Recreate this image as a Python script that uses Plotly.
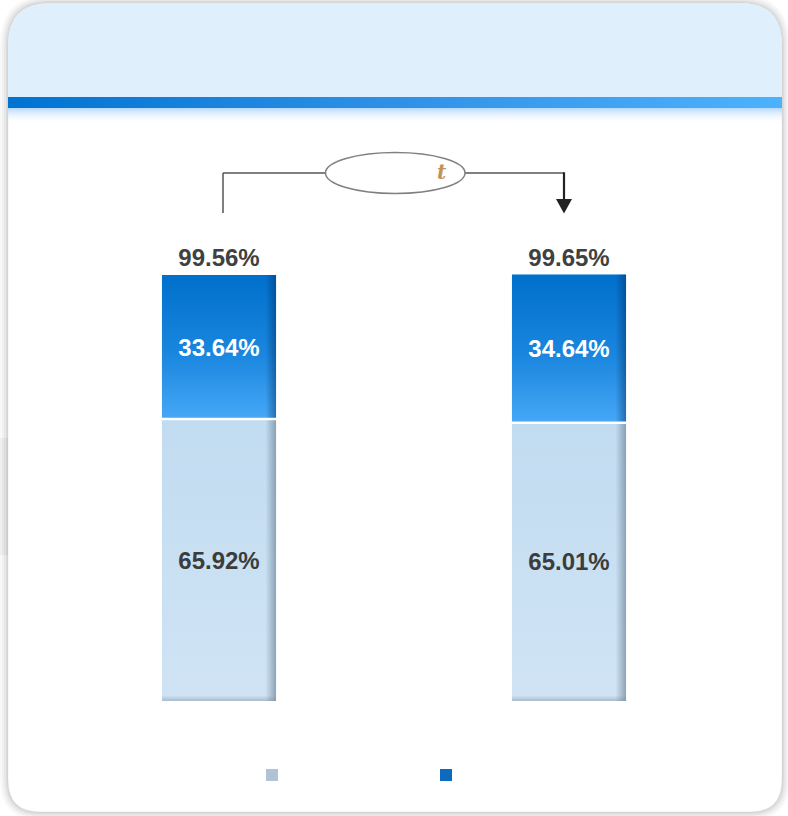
import plotly.graph_objects as go

# ---------------- data ----------------
categories = [0, 1]
bottom_values = [65.92, 65.01]
top_values = [33.64, 34.64]
total_values = [99.56, 99.65]
bottom_labels = ["65.92%", "65.01%"]
top_labels = ["33.64%", "34.64%"]
total_labels = ["99.56%", "99.65%"]
legend_names = [" ", " "]

W, H = 788, 816
BAR_W = 0.326
LBL_DY = -0.6  # small vertical nudge of labels (data units)

def px(x):
    return x / W

def py(y):
    return 1 - y / H

def rrect(x0, y0, x1, y1, r_top, r_bot):
    pts = [
        f"M{px(x0 + r_top)},{py(y0)}",
        f"L{px(x1 - r_top)},{py(y0)}",
        f"Q{px(x1)},{py(y0)} {px(x1)},{py(y0 + r_top)}",
        f"L{px(x1)},{py(y1 - r_bot)}",
        f"Q{px(x1)},{py(y1)} {px(x1 - r_bot)},{py(y1)}",
        f"L{px(x0 + r_bot)},{py(y1)}",
        f"Q{px(x0)},{py(y1)} {px(x0)},{py(y1 - r_bot)}",
        f"L{px(x0)},{py(y0 + r_top)}",
        f"Q{px(x0)},{py(y0)} {px(x0 + r_top)},{py(y0)}",
        "Z",
    ]
    return " ".join(pts)

fig = go.Figure()

# base bars (also provide legend symbols)
fig.add_trace(go.Bar(x=categories, y=bottom_values, width=BAR_W, name=legend_names[0],
                     marker=dict(color="#afc3d5", line=dict(width=0)), hoverinfo="skip"))
fig.add_trace(go.Bar(x=categories, y=top_values, width=BAR_W, name=legend_names[1],
                     marker=dict(color="#0c6bbf", line=dict(width=0)), hoverinfo="skip"))

# gradient overlays computed from the data
for i, c in enumerate(categories):
    xl, xr = c - BAR_W / 2, c + BAR_W / 2
    b0, b1 = 0, bottom_values[i]
    t0, t1 = bottom_values[i], bottom_values[i] + top_values[i]
    fig.add_trace(go.Scatter(x=[xl, xr, xr, xl, xl], y=[b0, b0, b1, b1, b0], mode="lines",
                             fill="toself", line=dict(width=0), showlegend=False, hoverinfo="skip",
                             fillgradient=dict(type="vertical",
                                               colorscale=[[0, "#cfe3f4"], [0.5, "#c9e0f3"], [1, "#c1dbf0"]])))
    fig.add_trace(go.Scatter(x=[xl, xr, xr, xl, xl], y=[t0, t0, t1, t1, t0], mode="lines",
                             fill="toself", line=dict(width=0), showlegend=False, hoverinfo="skip",
                             fillgradient=dict(type="vertical",
                                               colorscale=[[0, "#46a8f6"], [0.45, "#1a86de"], [1, "#0070cc"]])))
    e = 0.03
    fig.add_trace(go.Scatter(x=[xr - e, xr, xr, xr - e, xr - e], y=[b0, b0, b1, b1, b0], mode="lines",
                             fill="toself", line=dict(width=0), showlegend=False, hoverinfo="skip",
                             fillgradient=dict(type="horizontal",
                                               colorscale=[[0, "rgba(90,110,130,0)"], [1, "rgba(90,110,130,0.55)"]])))
    fig.add_trace(go.Scatter(x=[xr - e, xr, xr, xr - e, xr - e], y=[t0, t0, t1, t1, t0], mode="lines",
                             fill="toself", line=dict(width=0), showlegend=False, hoverinfo="skip",
                             fillgradient=dict(type="horizontal",
                                               colorscale=[[0, "rgba(0,40,90,0)"], [1, "rgba(0,40,90,0.45)"]])))
    fig.add_trace(go.Scatter(x=[xl, xr, xr, xl, xl], y=[b0, b0, b0 + 1.3, b0 + 1.3, b0], mode="lines",
                             fill="toself", line=dict(width=0), showlegend=False, hoverinfo="skip",
                             fillgradient=dict(type="vertical",
                                               colorscale=[[0, "rgba(120,140,160,0.45)"], [1, "rgba(120,140,160,0)"]])))
    fig.add_trace(go.Scatter(x=[xl, xr], y=[t0, t0], mode="lines", line=dict(color="white", width=2.5),
                             showlegend=False, hoverinfo="skip"))

FONT = "Liberation Sans, Arial, sans-serif"
fig.add_trace(go.Scatter(x=categories, y=[b / 2 + LBL_DY for b in bottom_values], mode="text",
                         text=bottom_labels, textposition="middle center", showlegend=False, hoverinfo="skip",
                         textfont=dict(family=FONT, size=24, color="#3c3c3c", weight="bold")))
fig.add_trace(go.Scatter(x=categories, y=[b + t / 2 + LBL_DY for b, t in zip(bottom_values, top_values)],
                         mode="text", text=top_labels, textposition="middle center", showlegend=False,
                         hoverinfo="skip", textfont=dict(family=FONT, size=24, color="white", weight="bold")))
fig.add_trace(go.Scatter(x=categories, y=[t + 4.0 + LBL_DY for t in total_values], mode="text",
                         text=total_labels, textposition="middle center", showlegend=False, hoverinfo="skip",
                         textfont=dict(family=FONT, size=24, color="#404040", weight="bold")))

# header stripe & glow on a pixel-space overlay axis
fig.add_trace(go.Scatter(x=[8, 782, 782, 8, 8], y=[97, 97, 108, 108, 97], mode="lines", fill="toself",
                         line=dict(width=0), xaxis="x2", yaxis="y2", showlegend=False, hoverinfo="skip",
                         fillgradient=dict(type="horizontal",
                                           colorscale=[[0, "#0073d1"], [0.5, "#2f91e6"], [1, "#4db2fc"]])))
fig.add_trace(go.Scatter(x=[8, 782, 782, 8, 8], y=[108, 108, 124, 124, 108], mode="lines", fill="toself",
                         line=dict(width=0), xaxis="x2", yaxis="y2", showlegend=False, hoverinfo="skip",
                         fillgradient=dict(type="vertical",
                                           colorscale=[[0, "rgba(255,255,255,0)"], [1, "rgba(150,200,250,0.7)"]])))

shapes = []
for k, a in [(8, 0.025), (6, 0.03), (4, 0.04), (2, 0.05)]:
    shapes.append(dict(type="path", xref="paper", yref="paper", layer="below",
                       path=rrect(8 - k, 3 - k, 782 + k, 812 + k, 42 + k, 32 + k),
                       fillcolor=f"rgba(0,0,0,{a})", line=dict(width=0)))
shapes.append(dict(type="rect", xref="paper", yref="paper", layer="below",
                   x0=px(0), x1=px(8), y0=py(555), y1=py(438),
                   fillcolor="rgba(0,0,0,0.04)", line=dict(width=0)))
shapes.append(dict(type="path", xref="paper", yref="paper", layer="below",
                   path=rrect(8, 3, 782, 812, 42, 32), fillcolor="white",
                   line=dict(color="rgba(0,0,0,0.06)", width=1)))
hp = (f"M{px(8)},{py(97)} L{px(8)},{py(45)} Q{px(8)},{py(3)} {px(50)},{py(3)} "
      f"L{px(740)},{py(3)} Q{px(782)},{py(3)} {px(782)},{py(45)} L{px(782)},{py(97)} Z")
shapes.append(dict(type="path", xref="paper", yref="paper", layer="below", path=hp,
                   fillcolor="#dff0fc", line=dict(width=0)))

line_c = "#555555"
shapes += [
    dict(type="line", xref="paper", yref="paper", x0=px(223), y0=py(213), x1=px(223), y1=py(173),
         line=dict(color=line_c, width=1.5)),
    dict(type="line", xref="paper", yref="paper", x0=px(223), y0=py(173), x1=px(326), y1=py(173),
         line=dict(color=line_c, width=1.5)),
    dict(type="line", xref="paper", yref="paper", x0=px(464), y0=py(173), x1=px(564), y1=py(173),
         line=dict(color=line_c, width=1.5)),
    dict(type="line", xref="paper", yref="paper", x0=px(564), y0=py(172.3), x1=px(564), y1=py(200),
         line=dict(color="#222222", width=2.2)),
    dict(type="path", xref="paper", yref="paper",
         path=f"M{px(556)},{py(199)} L{px(572)},{py(199)} L{px(564)},{py(213.5)} Z",
         fillcolor="#222222", line=dict(width=0)),
    dict(type="circle", xref="paper", yref="paper", x0=px(325.5), y0=py(152.5), x1=px(465), y1=py(193.5),
         fillcolor="white", line=dict(color="#808080", width=1.5)),
]

annotations = [
    dict(xref="paper", yref="paper", x=px(442), y=py(172), text="<b><i>t</i></b>", showarrow=False,
         font=dict(family="DejaVu Serif, serif", size=20, color="#c0935a"), xanchor="center", yanchor="middle"),
]

fig.update_layout(
    width=W, height=H,
    margin=dict(l=0, r=0, t=0, b=0),
    paper_bgcolor="white", plot_bgcolor="rgba(0,0,0,0)",
    barmode="stack",
    showlegend=True,
    legend=dict(orientation="h", x=px(252), y=py(775), xanchor="left", yanchor="middle",
                entrywidth=129, bgcolor="rgba(0,0,0,0)", font=dict(size=12, family=FONT),
                traceorder="normal"),
    xaxis=dict(range=[-219 / 350, (W - 219) / 350], visible=False, fixedrange=True),
    yaxis=dict(range=[-(H - 701) / 4.279, 701 / 4.279], visible=False, fixedrange=True),
    xaxis2=dict(range=[0, W], visible=False, overlaying="x", anchor="y2", fixedrange=True),
    yaxis2=dict(range=[H, 0], visible=False, overlaying="y", anchor="x2", fixedrange=True),
    shapes=shapes,
    annotations=annotations,
)

fig.write_html("out.html", config={"displayModeBar": False},
               post_script="document.body.style.margin='0';")
